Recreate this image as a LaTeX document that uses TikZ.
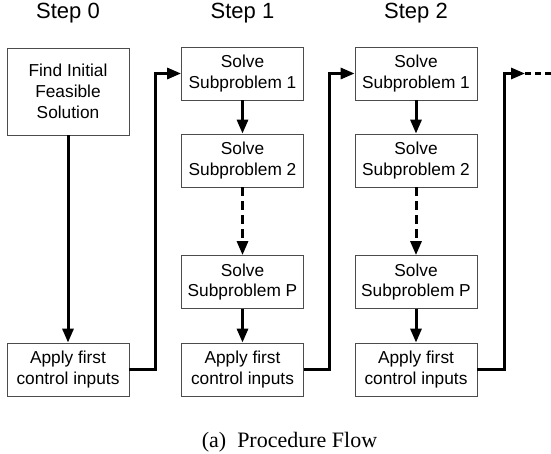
\documentclass[tikz,border=0pt]{standalone}
\usepackage{fontspec}
\setmainfont{Liberation Sans}
\newfontfamily\capfont{Liberation Serif}
\usetikzlibrary{arrows.meta,positioning}
\tikzset{
  box/.style={draw=black!70, line width=0.8pt, minimum width=122pt, inner sep=0pt, align=center,
    font=\fontsize{17.3}{20.7}\selectfont},
  subbox/.style={box, minimum height=53pt},
  steplabel/.style={font=\fontsize{22}{24}\selectfont, inner sep=0pt},
  conn/.style={line width=3pt, -{Triangle[length=14pt,width=11pt]}},
  dconn/.style={conn, dash pattern=on 9pt off 5pt},
}
\begin{document}
\begin{tikzpicture}[x=1pt,y=1pt]
\useasboundingbox (0,0) rectangle (551,-454);
% step labels
\node[steplabel] (l0) at (68,-13) {Step 0};
\node[steplabel] (l1) at (242.5,-13) {Step 1};
\node[steplabel] (l2) at (416,-13) {Step 2};
% column 0
\node[box, minimum height=87pt] (f0) at (68,-91.5) {Find Initial\\Feasible\\Solution};
\node[subbox] (a0) at (68,-369.5) {Apply first\\control inputs};
% column 1
\node[subbox] (s11) at (242.5,-73.5) {Solve\\Subproblem 1};
\node[subbox] (s12) at (242.5,-160.5) {Solve\\Subproblem 2};
\node[subbox] (s1p) at (242.5,-282) {Solve\\Subproblem P};
\node[subbox] (a1) at (242.5,-369.5) {Apply first\\control inputs};
% column 2
\node[subbox] (s21) at (416,-73.5) {Solve\\Subproblem 1};
\node[subbox] (s22) at (416,-160.5) {Solve\\Subproblem 2};
\node[subbox] (s2p) at (416,-282) {Solve\\Subproblem P};
\node[subbox] (a2) at (416,-369.5) {Apply first\\control inputs};
% connectors
\draw[conn] (f0.south) -- (a0.north);
\draw[conn] (a0.east) -- ++(26,0) |- (s11.west);
\draw[conn] (s11.south) -- (s12.north);
\draw[dconn] (s12.south) -- (s1p.north);
\draw[conn] (s1p.south) -- (a1.north);
\draw[conn] (a1.east) -- ++(26,0) |- (s21.west);
\draw[conn] (s21.south) -- (s22.north);
\draw[dconn] (s22.south) -- (s2p.north);
\draw[conn] (s2p.south) -- (a2.north);
\coordinate (nx) at (525,-73.5);
\coordinate (nxe) at (551,-73.5);
\draw[conn] (a2.east) -- ++(27,0) |- (nx);
\draw[line width=3pt, dash pattern=on 6pt off 4pt] (nx) -- (nxe);
% caption
\node[font=\capfont\fontsize{22}{24}\selectfont, anchor=base, inner sep=0pt] (cap) at (289.5,-447) {(a)\ \ Procedure Flow};
\end{tikzpicture}
\end{document}
